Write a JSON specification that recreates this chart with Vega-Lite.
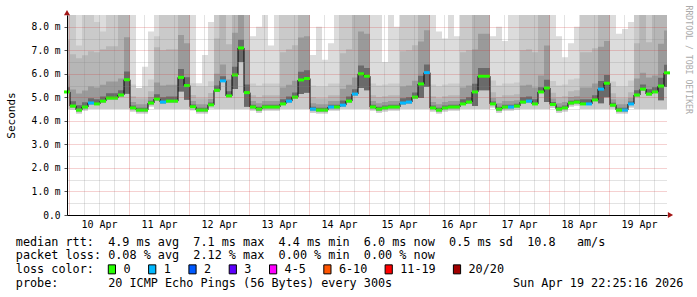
{
  "$schema": "https://vega.github.io/schema/vega-lite/v6.json",
  "width": 600,
  "height": 200,
  "autosize": {"type": "none"},
  "padding": {"left": 67, "top": 15, "right": 30, "bottom": 82},
  "background": "white",
  "config": {
    "view": {"stroke": null},
    "axis": {"labelFont": "DejaVu Sans Mono", "titleFont": "DejaVu Sans Mono", "labelColor": "#000", "titleColor": "#000", "titleFontWeight": "normal"}
  },
  "datasets": {
    "s": [
      {"t":"2026-04-09T23:13:16Z","med":5.23,"loss":"0","lo":4.5,"a0":5.18,"a":5.43,"b":5.93,"b2":7.43,"c":8.5,"d":8.5},
      {"t":"2026-04-10T01:37:16Z","med":4.63,"loss":"0","lo":4.48,"a0":4.58,"a":4.83,"b":5.33,"b2":6.83,"c":8.5,"d":8.5},
      {"t":"2026-04-10T04:01:16Z","med":4.46,"loss":"0","lo":4.31,"a0":4.41,"a":4.66,"b":5.16,"b2":6.66,"c":7.2,"d":8.5},
      {"t":"2026-04-10T06:25:16Z","med":4.59,"loss":"0","lo":4.44,"a0":4.54,"a":4.79,"b":5.29,"b2":6.79,"c":8.5,"d":8.5},
      {"t":"2026-04-10T08:49:16Z","med":4.76,"loss":"1","lo":4.5,"a0":4.71,"a":4.96,"b":5.46,"b2":6.96,"c":8.5,"d":8.5},
      {"t":"2026-04-10T11:13:16Z","med":4.72,"loss":"0","lo":4.5,"a0":4.67,"a":4.92,"b":5.42,"b2":6.92,"c":8.2,"d":8.5},
      {"t":"2026-04-10T13:37:16Z","med":4.84,"loss":"0","lo":4.5,"a0":4.79,"a":5.04,"b":5.54,"b2":7.04,"c":7.8,"d":8.5},
      {"t":"2026-04-10T16:01:16Z","med":4.97,"loss":"0","lo":4.5,"a0":4.92,"a":5.17,"b":5.67,"b2":7.17,"c":8.5,"d":8.5},
      {"t":"2026-04-10T18:25:16Z","med":4.97,"loss":"0","lo":4.5,"a0":4.92,"a":5.17,"b":5.67,"b2":7.17,"c":8.5,"d":8.5},
      {"t":"2026-04-10T20:49:16Z","med":5.1,"loss":"0","lo":4.5,"a0":5.05,"a":5.3,"b":5.8,"b2":8.5,"c":8.5,"d":8.5},
      {"t":"2026-04-10T23:13:16Z","med":5.75,"loss":"0","lo":4.5,"a0":5.15,"a":6.1,"b":7.55,"b2":8.5,"c":8.5,"d":8.5},
      {"t":"2026-04-11T01:37:16Z","med":4.55,"loss":"0","lo":4.4,"a0":4.5,"a":4.65,"b":4.8,"b2":5.05,"c":5.55,"d":8.5},
      {"t":"2026-04-11T04:01:16Z","med":4.46,"loss":"0","lo":4.31,"a0":4.41,"a":4.56,"b":4.71,"b2":4.96,"c":5.4,"d":5.4},
      {"t":"2026-04-11T06:25:16Z","med":4.46,"loss":"0","lo":4.31,"a0":4.41,"a":4.56,"b":4.71,"b2":4.96,"c":5.46,"d":6.3},
      {"t":"2026-04-11T08:49:16Z","med":4.76,"loss":"0","lo":4.61,"a0":4.71,"a":4.86,"b":5.01,"b2":5.26,"c":5.76,"d":7.8},
      {"t":"2026-04-11T11:13:16Z","med":4.93,"loss":"0","lo":4.5,"a0":4.88,"a":5.13,"b":5.63,"b2":7.13,"c":7.6,"d":8.5},
      {"t":"2026-04-11T13:37:16Z","med":4.8,"loss":"1","lo":4.5,"a0":4.75,"a":5.0,"b":5.5,"b2":7.0,"c":8.5,"d":8.5},
      {"t":"2026-04-11T16:01:16Z","med":4.84,"loss":"0","lo":4.5,"a0":4.79,"a":5.04,"b":5.54,"b2":7.04,"c":8.5,"d":8.5},
      {"t":"2026-04-11T18:25:16Z","med":4.84,"loss":"0","lo":4.5,"a0":4.79,"a":5.04,"b":5.54,"b2":7.04,"c":8.5,"d":8.5},
      {"t":"2026-04-11T20:49:16Z","med":5.85,"loss":"0","lo":4.5,"a0":5.25,"a":6.2,"b":7.65,"b2":8.5,"c":8.5,"d":8.5},
      {"t":"2026-04-11T23:13:16Z","med":5.5,"loss":"0","lo":4.5,"a0":4.9,"a":5.85,"b":7.3,"b2":8.5,"c":8.5,"d":8.5},
      {"t":"2026-04-12T01:37:16Z","med":4.6,"loss":"0","lo":4.45,"a0":4.55,"a":4.7,"b":4.85,"b2":5.1,"c":5.6,"d":8.5},
      {"t":"2026-04-12T04:01:16Z","med":4.46,"loss":"0","lo":4.31,"a0":4.41,"a":4.56,"b":4.71,"b2":4.96,"c":5.46,"d":5.6},
      {"t":"2026-04-12T06:25:16Z","med":4.46,"loss":"0","lo":4.31,"a0":4.41,"a":4.56,"b":4.71,"b2":4.96,"c":5.46,"d":6.8},
      {"t":"2026-04-12T08:49:16Z","med":4.68,"loss":"0","lo":4.53,"a0":4.63,"a":4.78,"b":4.93,"b2":5.18,"c":5.68,"d":8.2},
      {"t":"2026-04-12T11:13:16Z","med":5.3,"loss":"0","lo":4.5,"a0":5.25,"a":5.5,"b":6.0,"b2":7.5,"c":8.5,"d":8.5},
      {"t":"2026-04-12T13:37:16Z","med":5.7,"loss":"1","lo":4.5,"a0":5.65,"a":5.9,"b":6.4,"b2":8.5,"c":8.5,"d":8.5},
      {"t":"2026-04-12T16:01:16Z","med":5.06,"loss":"0","lo":4.5,"a0":5.01,"a":5.26,"b":5.76,"b2":7.26,"c":8.5,"d":8.5},
      {"t":"2026-04-12T18:25:16Z","med":5.95,"loss":"0","lo":4.5,"a0":5.35,"a":6.3,"b":7.75,"b2":8.5,"c":8.5,"d":8.5},
      {"t":"2026-04-12T20:49:16Z","med":7.1,"loss":"0","lo":4.5,"a0":6.5,"a":7.45,"b":8.5,"b2":8.5,"c":8.5,"d":8.5},
      {"t":"2026-04-12T23:13:16Z","med":5.2,"loss":"0","lo":4.5,"a0":4.6,"a":5.55,"b":7.0,"b2":8.5,"c":8.5,"d":8.5},
      {"t":"2026-04-13T01:37:16Z","med":4.59,"loss":"0","lo":4.44,"a0":4.54,"a":4.69,"b":4.84,"b2":5.09,"c":5.59,"d":7.6},
      {"t":"2026-04-13T04:01:16Z","med":4.5,"loss":"0","lo":4.35,"a0":4.45,"a":4.6,"b":4.75,"b2":5.0,"c":5.5,"d":8.0},
      {"t":"2026-04-13T06:25:16Z","med":4.59,"loss":"0","lo":4.44,"a0":4.54,"a":4.69,"b":4.84,"b2":5.09,"c":5.59,"d":8.5},
      {"t":"2026-04-13T08:49:16Z","med":4.59,"loss":"0","lo":4.44,"a0":4.54,"a":4.69,"b":4.84,"b2":5.09,"c":5.59,"d":7.2},
      {"t":"2026-04-13T11:13:16Z","med":4.59,"loss":"0","lo":4.44,"a0":4.54,"a":4.69,"b":4.84,"b2":5.09,"c":5.59,"d":8.5},
      {"t":"2026-04-13T13:37:16Z","med":4.72,"loss":"0","lo":4.5,"a0":4.67,"a":4.92,"b":5.42,"b2":6.92,"c":8.5,"d":8.5},
      {"t":"2026-04-13T16:01:16Z","med":4.84,"loss":"1","lo":4.5,"a0":4.79,"a":5.04,"b":5.54,"b2":7.04,"c":8.5,"d":8.5},
      {"t":"2026-04-13T18:25:16Z","med":5.01,"loss":"0","lo":4.5,"a0":4.96,"a":5.21,"b":5.71,"b2":7.21,"c":8.5,"d":8.5},
      {"t":"2026-04-13T20:49:16Z","med":5.74,"loss":"0","lo":4.5,"a0":5.14,"a":6.09,"b":7.54,"b2":8.5,"c":8.5,"d":8.5},
      {"t":"2026-04-13T23:13:16Z","med":5.8,"loss":"0","lo":4.5,"a0":5.2,"a":6.15,"b":7.6,"b2":8.5,"c":8.5,"d":8.5},
      {"t":"2026-04-14T01:37:16Z","med":4.5,"loss":"1","lo":4.35,"a0":4.45,"a":4.6,"b":4.75,"b2":5.0,"c":5.5,"d":6.8},
      {"t":"2026-04-14T04:01:16Z","med":4.46,"loss":"0","lo":4.31,"a0":4.41,"a":4.56,"b":4.71,"b2":4.96,"c":5.46,"d":8.0},
      {"t":"2026-04-14T06:25:16Z","med":4.46,"loss":"0","lo":4.31,"a0":4.41,"a":4.56,"b":4.71,"b2":4.96,"c":5.46,"d":6.6},
      {"t":"2026-04-14T08:49:16Z","med":4.59,"loss":"1","lo":4.44,"a0":4.54,"a":4.69,"b":4.84,"b2":5.09,"c":5.59,"d":7.3},
      {"t":"2026-04-14T11:13:16Z","med":4.59,"loss":"0","lo":4.44,"a0":4.54,"a":4.69,"b":4.84,"b2":5.09,"c":5.59,"d":8.5},
      {"t":"2026-04-14T13:37:16Z","med":4.67,"loss":"1","lo":4.5,"a0":4.62,"a":4.87,"b":5.37,"b2":6.87,"c":8.5,"d":8.5},
      {"t":"2026-04-14T16:01:16Z","med":4.84,"loss":"0","lo":4.5,"a0":4.79,"a":5.04,"b":5.54,"b2":7.04,"c":8.5,"d":8.5},
      {"t":"2026-04-14T18:25:16Z","med":5.14,"loss":"1","lo":4.5,"a0":5.09,"a":5.34,"b":5.84,"b2":8.5,"c":8.5,"d":8.5},
      {"t":"2026-04-14T20:49:16Z","med":6.0,"loss":"0","lo":4.5,"a0":5.4,"a":6.35,"b":7.8,"b2":8.5,"c":8.5,"d":8.5},
      {"t":"2026-04-14T23:13:16Z","med":5.9,"loss":"0","lo":4.5,"a0":5.3,"a":6.25,"b":7.7,"b2":8.5,"c":8.5,"d":8.5},
      {"t":"2026-04-15T01:37:16Z","med":4.59,"loss":"0","lo":4.44,"a0":4.54,"a":4.69,"b":4.84,"b2":5.09,"c":5.59,"d":8.5},
      {"t":"2026-04-15T04:01:16Z","med":4.5,"loss":"0","lo":4.35,"a0":4.45,"a":4.6,"b":4.75,"b2":5.0,"c":5.5,"d":8.5},
      {"t":"2026-04-15T06:25:16Z","med":4.55,"loss":"0","lo":4.4,"a0":4.5,"a":4.65,"b":4.8,"b2":5.05,"c":5.55,"d":6.5},
      {"t":"2026-04-15T08:49:16Z","med":4.59,"loss":"0","lo":4.44,"a0":4.54,"a":4.69,"b":4.84,"b2":5.09,"c":5.59,"d":8.5},
      {"t":"2026-04-15T11:13:16Z","med":4.59,"loss":"0","lo":4.44,"a0":4.54,"a":4.69,"b":4.84,"b2":5.09,"c":5.59,"d":8.0},
      {"t":"2026-04-15T13:37:16Z","med":4.76,"loss":"1","lo":4.5,"a0":4.71,"a":4.96,"b":5.46,"b2":6.96,"c":8.5,"d":8.5},
      {"t":"2026-04-15T16:01:16Z","med":4.8,"loss":"1","lo":4.5,"a0":4.75,"a":5.0,"b":5.5,"b2":7.0,"c":8.5,"d":8.5},
      {"t":"2026-04-15T18:25:16Z","med":5.01,"loss":"0","lo":4.5,"a0":4.96,"a":5.21,"b":5.71,"b2":7.21,"c":8.5,"d":8.5},
      {"t":"2026-04-15T20:49:16Z","med":5.57,"loss":"0","lo":4.5,"a0":4.97,"a":5.92,"b":7.37,"b2":8.5,"c":8.5,"d":8.5},
      {"t":"2026-04-15T23:13:16Z","med":6.05,"loss":"1","lo":4.5,"a0":5.45,"a":6.4,"b":7.85,"b2":8.5,"c":8.5,"d":8.5},
      {"t":"2026-04-16T01:37:16Z","med":4.55,"loss":"0","lo":4.4,"a0":4.5,"a":4.65,"b":4.8,"b2":5.05,"c":5.55,"d":8.5},
      {"t":"2026-04-16T04:01:16Z","med":4.46,"loss":"0","lo":4.31,"a0":4.41,"a":4.56,"b":4.71,"b2":4.96,"c":5.46,"d":7.8},
      {"t":"2026-04-16T06:25:16Z","med":4.55,"loss":"0","lo":4.4,"a0":4.5,"a":4.65,"b":4.8,"b2":5.05,"c":5.55,"d":7.5},
      {"t":"2026-04-16T08:49:16Z","med":4.59,"loss":"0","lo":4.44,"a0":4.54,"a":4.69,"b":4.84,"b2":5.09,"c":5.59,"d":8.5},
      {"t":"2026-04-16T11:13:16Z","med":4.59,"loss":"0","lo":4.44,"a0":4.54,"a":4.69,"b":4.84,"b2":5.09,"c":5.59,"d":7.6},
      {"t":"2026-04-16T13:37:16Z","med":4.72,"loss":"0","lo":4.5,"a0":4.67,"a":4.92,"b":5.42,"b2":6.92,"c":8.5,"d":8.5},
      {"t":"2026-04-16T16:01:16Z","med":4.8,"loss":"0","lo":4.5,"a0":4.75,"a":5.0,"b":5.5,"b2":7.0,"c":8.5,"d":8.5},
      {"t":"2026-04-16T18:25:16Z","med":5.23,"loss":"0","lo":4.5,"a0":4.63,"a":5.58,"b":7.03,"b2":8.5,"c":8.5,"d":8.5},
      {"t":"2026-04-16T20:49:16Z","med":5.9,"loss":"0","lo":4.5,"a0":5.3,"a":6.25,"b":7.7,"b2":8.5,"c":8.5,"d":8.5},
      {"t":"2026-04-16T23:13:16Z","med":5.9,"loss":"0","lo":4.5,"a0":5.3,"a":6.25,"b":7.7,"b2":8.5,"c":8.5,"d":8.5},
      {"t":"2026-04-17T01:37:16Z","med":4.72,"loss":"0","lo":4.57,"a0":4.67,"a":4.82,"b":4.97,"b2":5.22,"c":5.72,"d":7.6},
      {"t":"2026-04-17T04:01:16Z","med":4.5,"loss":"0","lo":4.35,"a0":4.45,"a":4.6,"b":4.75,"b2":5.0,"c":5.5,"d":8.0},
      {"t":"2026-04-17T06:25:16Z","med":4.59,"loss":"0","lo":4.44,"a0":4.54,"a":4.69,"b":4.84,"b2":5.09,"c":5.59,"d":7.4},
      {"t":"2026-04-17T08:49:16Z","med":4.59,"loss":"1","lo":4.44,"a0":4.54,"a":4.69,"b":4.84,"b2":5.09,"c":5.59,"d":8.5},
      {"t":"2026-04-17T11:13:16Z","med":4.63,"loss":"0","lo":4.48,"a0":4.58,"a":4.73,"b":4.88,"b2":5.13,"c":5.63,"d":8.5},
      {"t":"2026-04-17T13:37:16Z","med":4.8,"loss":"0","lo":4.5,"a0":4.75,"a":5.0,"b":5.5,"b2":7.0,"c":8.5,"d":8.5},
      {"t":"2026-04-17T16:01:16Z","med":4.84,"loss":"1","lo":4.5,"a0":4.79,"a":5.04,"b":5.54,"b2":7.04,"c":8.5,"d":8.5},
      {"t":"2026-04-17T18:25:16Z","med":4.72,"loss":"0","lo":4.5,"a0":4.67,"a":4.92,"b":5.42,"b2":6.92,"c":8.5,"d":8.5},
      {"t":"2026-04-17T20:49:16Z","med":5.23,"loss":"0","lo":4.5,"a0":5.18,"a":5.43,"b":5.93,"b2":8.5,"c":8.5,"d":8.5},
      {"t":"2026-04-17T23:13:16Z","med":5.4,"loss":"0","lo":4.5,"a0":4.8,"a":5.75,"b":7.2,"b2":8.5,"c":8.5,"d":8.5},
      {"t":"2026-04-18T01:37:16Z","med":4.7,"loss":"0","lo":4.55,"a0":4.65,"a":4.8,"b":4.95,"b2":5.2,"c":5.7,"d":8.5},
      {"t":"2026-04-18T04:01:16Z","med":4.5,"loss":"0","lo":4.35,"a0":4.45,"a":4.6,"b":4.75,"b2":5.0,"c":5.5,"d":7.6},
      {"t":"2026-04-18T06:25:16Z","med":4.55,"loss":"0","lo":4.4,"a0":4.5,"a":4.65,"b":4.8,"b2":5.05,"c":5.55,"d":6.7},
      {"t":"2026-04-18T08:49:16Z","med":4.76,"loss":"0","lo":4.61,"a0":4.71,"a":4.86,"b":5.01,"b2":5.26,"c":5.76,"d":7.3},
      {"t":"2026-04-18T11:13:16Z","med":4.8,"loss":"0","lo":4.65,"a0":4.75,"a":4.9,"b":5.05,"b2":5.3,"c":5.8,"d":8.0},
      {"t":"2026-04-18T13:37:16Z","med":4.72,"loss":"0","lo":4.5,"a0":4.67,"a":4.92,"b":5.42,"b2":6.92,"c":8.5,"d":8.5},
      {"t":"2026-04-18T16:01:16Z","med":4.72,"loss":"1","lo":4.5,"a0":4.67,"a":4.92,"b":5.42,"b2":6.92,"c":8.5,"d":8.5},
      {"t":"2026-04-18T18:25:16Z","med":4.89,"loss":"0","lo":4.5,"a0":4.84,"a":5.09,"b":5.59,"b2":7.09,"c":8.5,"d":8.5},
      {"t":"2026-04-18T20:49:16Z","med":5.35,"loss":"1","lo":4.5,"a0":4.75,"a":5.7,"b":7.15,"b2":8.5,"c":8.5,"d":8.5},
      {"t":"2026-04-18T23:13:16Z","med":5.6,"loss":"0","lo":4.5,"a0":5.0,"a":5.95,"b":7.4,"b2":8.5,"c":8.5,"d":8.5},
      {"t":"2026-04-19T01:37:16Z","med":4.67,"loss":"0","lo":4.52,"a0":4.62,"a":4.77,"b":4.92,"b2":5.17,"c":5.67,"d":8.5},
      {"t":"2026-04-19T04:01:16Z","med":4.46,"loss":"0","lo":4.31,"a0":4.41,"a":4.56,"b":4.71,"b2":4.96,"c":5.46,"d":7.7},
      {"t":"2026-04-19T06:25:16Z","med":4.46,"loss":"1","lo":4.31,"a0":4.41,"a":4.56,"b":4.71,"b2":4.96,"c":5.46,"d":7.9},
      {"t":"2026-04-19T08:49:16Z","med":4.72,"loss":"1","lo":4.57,"a0":4.67,"a":4.82,"b":4.97,"b2":5.22,"c":5.72,"d":8.2},
      {"t":"2026-04-19T11:13:16Z","med":5.1,"loss":"0","lo":4.5,"a0":5.05,"a":5.3,"b":5.8,"b2":7.3,"c":8.5,"d":8.5},
      {"t":"2026-04-19T13:37:16Z","med":5.35,"loss":"0","lo":4.5,"a0":5.3,"a":5.55,"b":6.05,"b2":8.5,"c":8.5,"d":8.5},
      {"t":"2026-04-19T16:01:16Z","med":5.14,"loss":"0","lo":4.5,"a0":5.09,"a":5.34,"b":5.84,"b2":7.34,"c":8.5,"d":8.5},
      {"t":"2026-04-19T18:25:16Z","med":5.23,"loss":"0","lo":4.5,"a0":5.18,"a":5.43,"b":5.93,"b2":8.5,"c":8.5,"d":8.5},
      {"t":"2026-04-19T20:49:16Z","med":5.48,"loss":"0","lo":4.5,"a0":4.88,"a":5.83,"b":7.28,"b2":8.5,"c":8.5,"d":8.5},
      {"t":"2026-04-19T23:13:16Z","med":6.04,"loss":"0","lo":4.5,"a0":5.44,"a":6.39,"b":7.84,"b2":8.5,"c":8.5,"d":8.5}
    ]
  },
  "data": {"name": "s"},
  "resolve": {"axis": {"x": "independent", "y": "independent"}},
  "layer": [
    {
      "mark": {"type": "area", "interpolate": "step", "color": "#dcdcdc"},
      "encoding": {
        "x": {"field": "t", "type": "temporal",
          "scale": {"type": "utc", "domain": [{"year":2026,"month":4,"date":9,"hours":23,"minutes":13,"seconds":16,"utc":true},{"year":2026,"month":4,"date":19,"hours":23,"minutes":13,"seconds":16,"utc":true}]},
          "axis": {"orient": "bottom", "grid": true, "gridColor": "#808080", "gridOpacity": 0.45, "gridDash": [1,1], "labels": false, "ticks": false, "domain": false, "title": null, "zindex": 1,
            "values": [
              {"year":2026,"month":4,"date":10,"hours":6,"utc":true},{"year":2026,"month":4,"date":10,"hours":12,"utc":true},{"year":2026,"month":4,"date":10,"hours":18,"utc":true},
              {"year":2026,"month":4,"date":11,"hours":6,"utc":true},{"year":2026,"month":4,"date":11,"hours":12,"utc":true},{"year":2026,"month":4,"date":11,"hours":18,"utc":true},
              {"year":2026,"month":4,"date":12,"hours":6,"utc":true},{"year":2026,"month":4,"date":12,"hours":12,"utc":true},{"year":2026,"month":4,"date":12,"hours":18,"utc":true},
              {"year":2026,"month":4,"date":13,"hours":6,"utc":true},{"year":2026,"month":4,"date":13,"hours":12,"utc":true},{"year":2026,"month":4,"date":13,"hours":18,"utc":true},
              {"year":2026,"month":4,"date":14,"hours":6,"utc":true},{"year":2026,"month":4,"date":14,"hours":12,"utc":true},{"year":2026,"month":4,"date":14,"hours":18,"utc":true},
              {"year":2026,"month":4,"date":15,"hours":6,"utc":true},{"year":2026,"month":4,"date":15,"hours":12,"utc":true},{"year":2026,"month":4,"date":15,"hours":18,"utc":true},
              {"year":2026,"month":4,"date":16,"hours":6,"utc":true},{"year":2026,"month":4,"date":16,"hours":12,"utc":true},{"year":2026,"month":4,"date":16,"hours":18,"utc":true},
              {"year":2026,"month":4,"date":17,"hours":6,"utc":true},{"year":2026,"month":4,"date":17,"hours":12,"utc":true},{"year":2026,"month":4,"date":17,"hours":18,"utc":true},
              {"year":2026,"month":4,"date":18,"hours":6,"utc":true},{"year":2026,"month":4,"date":18,"hours":12,"utc":true},{"year":2026,"month":4,"date":18,"hours":18,"utc":true},
              {"year":2026,"month":4,"date":19,"hours":6,"utc":true},{"year":2026,"month":4,"date":19,"hours":12,"utc":true},{"year":2026,"month":4,"date":19,"hours":18,"utc":true}
            ]}},
        "y": {"field": "lo", "type": "quantitative", "scale": {"domain": [0, 8.5], "nice": false, "zero": false},
          "axis": {"orient": "left", "values": [0.5,1.5,2.5,3.5,4.5,5.5,6.5,7.5], "grid": true, "gridColor": "#808080", "gridOpacity": 0.45, "gridDash": [1,1], "labels": false, "ticks": false, "domain": false, "title": null, "zindex": 1}},
        "y2": {"field": "d"}
      }
    },
    {
      "mark": {"type": "area", "interpolate": "step", "color": "#cacaca"},
      "encoding": {
        "x": {"field": "t", "type": "temporal",
          "axis": {"orient": "bottom", "grid": true, "gridColor": "#d03030", "gridOpacity": 0.45, "gridDash": [1,1], "labels": false, "ticks": false, "domain": false, "title": null, "zindex": 1,
            "values": [
              {"year":2026,"month":4,"date":10,"hours":0,"utc":true},{"year":2026,"month":4,"date":11,"hours":0,"utc":true},{"year":2026,"month":4,"date":12,"hours":0,"utc":true},
              {"year":2026,"month":4,"date":13,"hours":0,"utc":true},{"year":2026,"month":4,"date":14,"hours":0,"utc":true},{"year":2026,"month":4,"date":15,"hours":0,"utc":true},
              {"year":2026,"month":4,"date":16,"hours":0,"utc":true},{"year":2026,"month":4,"date":17,"hours":0,"utc":true},{"year":2026,"month":4,"date":18,"hours":0,"utc":true},
              {"year":2026,"month":4,"date":19,"hours":0,"utc":true}
            ]}},
        "y": {"field": "lo", "type": "quantitative",
          "axis": {"orient": "left", "values": [0,1,2,3,4,5,6,7,8], "grid": true, "gridColor": "#d03030", "gridOpacity": 0.45, "gridDash": [1,1], "zindex": 1,
            "labelExpr": "datum.value == 0 ? '0.0' : format(datum.value, '.1f') + ' m'",
            "labelFontSize": 9.6, "labelPadding": 4, "ticks": true, "tickSize": 3, "tickColor": "#555", "domain": true, "domainColor": "#000",
            "title": "Seconds", "titleFontSize": 11, "titleAngle": 270, "titleX": -55.5, "titleY": 100, "titleAlign": "center", "titleBaseline": "middle"}},
        "y2": {"field": "c"}
      }
    },
    {
      "mark": {"type": "area", "interpolate": "step", "color": "#b6b6b6"},
      "encoding": {
        "x": {"field": "t", "type": "temporal",
          "axis": {"orient": "bottom", "grid": false, "ticks": false, "domain": true, "domainColor": "#000", "labelFontSize": 10, "labelPadding": 4,
            "labelExpr": "utcFormat(datum.value, '%d %b')",
            "values": [
              {"year":2026,"month":4,"date":10,"hours":12,"utc":true},{"year":2026,"month":4,"date":11,"hours":12,"utc":true},{"year":2026,"month":4,"date":12,"hours":12,"utc":true},
              {"year":2026,"month":4,"date":13,"hours":12,"utc":true},{"year":2026,"month":4,"date":14,"hours":12,"utc":true},{"year":2026,"month":4,"date":15,"hours":12,"utc":true},
              {"year":2026,"month":4,"date":16,"hours":12,"utc":true},{"year":2026,"month":4,"date":17,"hours":12,"utc":true},{"year":2026,"month":4,"date":18,"hours":12,"utc":true},
              {"year":2026,"month":4,"date":19,"hours":12,"utc":true}
            ],
            "zindex": 1,
            "title": [
              "median\u00a0rtt:\u00a0\u00a04.9\u00a0ms\u00a0avg\u00a0\u00a07.1\u00a0ms\u00a0max\u00a0\u00a04.4\u00a0ms\u00a0min\u00a0\u00a06.0\u00a0ms\u00a0now\u00a0\u00a00.5\u00a0ms\u00a0sd\u00a0\u00a010.8\u00a0\u00a0\u00a0am/s",
              "packet\u00a0loss:\u00a00.08\u00a0%\u00a0avg\u00a0\u00a02.12\u00a0%\u00a0max\u00a0\u00a00.00\u00a0%\u00a0min\u00a0\u00a00.00\u00a0%\u00a0now",
              "loss\u00a0color:",
              "probe:\u00a0\u00a0\u00a0\u00a0\u00a0\u00a0\u00a020\u00a0ICMP\u00a0Echo\u00a0Pings\u00a0(56\u00a0Bytes)\u00a0every\u00a0300s\u00a0\u00a0\u00a0\u00a0\u00a0\u00a0\u00a0\u00a0\u00a0\u00a0\u00a0\u00a0\u00a0\u00a0\u00a0\u00a0\u00a0Sun\u00a0Apr\u00a019\u00a022:25:16\u00a02026"
            ],
            "titleFontSize": 11.8, "titleX": -51.7, "titleY": 30, "titleAlign": "left", "titleBaseline": "alphabetic", "titleLineHeight": 13.7, "titleAnchor": "start"}},
        "y": {"field": "a0", "type": "quantitative",
          "axis": {"orient": "right", "grid": false, "labels": false, "ticks": false, "domain": false,
            "title": "RRDTOOL / TOBI OETIKER", "titleFontSize": 8.2, "titleColor": "#aaaaaa", "titleAngle": 90, "titleX": 20.5, "titleY": -10, "titleAlign": "left", "titleBaseline": "middle"}},
        "y2": {"field": "b2"}
      }
    },
    {
      "mark": {"type": "area", "interpolate": "step", "color": "#9a9a9a"},
      "encoding": {
        "x": {"field": "t", "type": "temporal", "axis": null},
        "y": {"field": "a0", "type": "quantitative", "axis": null},
        "y2": {"field": "b"}
      }
    },
    {
      "mark": {"type": "area", "interpolate": "step", "color": "#6a6a6a"},
      "encoding": {
        "x": {"field": "t", "type": "temporal", "axis": null},
        "y": {"field": "a0", "type": "quantitative", "axis": null},
        "y2": {"field": "a"}
      }
    },
    {
      "mark": {"type": "line", "interpolate": "step", "color": "#000000", "strokeWidth": 1},
      "encoding": {
        "x": {"field": "t", "type": "temporal", "axis": null},
        "y": {"field": "med", "type": "quantitative", "axis": null}
      }
    },
    {
      "mark": {"type": "point", "filled": true, "opacity": 1, "shape": "M-1,-0.5L1,-0.5L1,0.5L-1,0.5Z", "size": 36, "strokeWidth": 0},
      "encoding": {
        "x": {"field": "t", "type": "temporal", "axis": null},
        "y": {"field": "med", "type": "quantitative", "axis": null},
        "color": {"field": "loss", "type": "nominal",
          "scale": {"domain": ["0","1","2","3","4-5","6-10","11-19","20/20"], "range": ["#26ff00","#00b8ff","#0059ff","#5e00ff","#ff00ff","#ff5500","#ff0000","#a10000"]},
          "legend": {"orient": "none", "legendX": 39, "legendY": 248.3, "direction": "horizontal", "title": null, "padding": 0,
            "symbolType": "M-0.8,-1L0.8,-1L0.8,1L-0.8,1Z", "symbolSize": 81, "symbolOpacity": 1,
            "labelFont": "DejaVu Sans Mono", "labelFontSize": 11.8, "labelColor": "#000", "labelOffset": 5.6, "columnPadding": 15.3,
            "encode": {"symbols": {"update": {"stroke": {"value": "#000"}, "strokeWidth": {"value": 1}, "opacity": {"value": 1}}}}}}
      }
    },
    {
      "data": {"values": [{"k": 1}]},
      "mark": {"type": "point", "shape": "triangle-up", "filled": true, "opacity": 1, "size": 36, "color": "#a31515"},
      "encoding": {
        "x": {"datum": {"year":2026,"month":4,"date":9,"hours":23,"minutes":13,"seconds":16,"utc":true}, "type": "temporal", "axis": null},
        "y": {"datum": 8.6, "type": "quantitative", "axis": null}
      }
    },
    {
      "data": {"values": [{"k": 1}]},
      "mark": {"type": "point", "shape": "triangle-right", "filled": true, "opacity": 1, "size": 36, "color": "#a31515"},
      "encoding": {
        "x": {"datum": {"year":2026,"month":4,"date":20,"hours":0,"minutes":37,"seconds":16,"utc":true}, "type": "temporal", "axis": null},
        "y": {"datum": 0, "type": "quantitative", "axis": null}
      }
    }
  ]
}
